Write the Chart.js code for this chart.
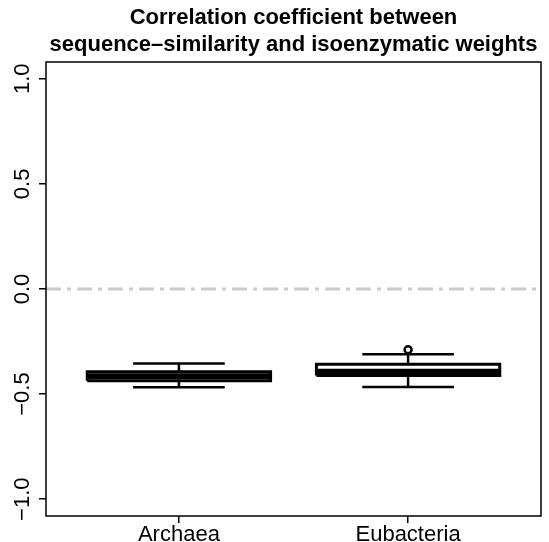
<!DOCTYPE html>
<html>
<head>
<meta charset="utf-8">
<script src="https://cdn.jsdelivr.net/npm/chart.js@4.4.1/dist/chart.umd.min.js"></script>
<style>
  html, body { margin: 0; padding: 0; background: #fff; }
</style>
</head>
<body>
<canvas id="grafica" width="549" height="542"></canvas>
<script>

// ─────────────────────────────────────────────────────────────
// Datos del boxplot
// ─────────────────────────────────────────────────────────────
const titleLines  = ['Correlation coefficient between', 'sequence\u2013similarity and isoenzymatic weights'];
const categories  = ['Archaea', 'Eubacteria'];
const whiskerLow  = [-0.468, -0.466];
const boxLow      = [-0.436, -0.411];
const medians     = [-0.415, -0.394];
const boxHigh     = [-0.394, -0.358];
const whiskerHigh = [-0.355, -0.310];
const outliers    = [[], [-0.289]];
const yTicks      = [-1.0, -0.5, 0.0, 0.5, 1.0];
const yRange      = [-1.08, 1.08];
const refLine     = 0;

// Geometría del boxplot en unidades del eje x
const BOX_HALF = 0.4;
const CAP_HALF = 0.2;
const X_MIN = 0.42;
const X_MAX = 2.58;
const FONT = "'Liberation Sans', Arial, Helvetica, sans-serif";


// ─────────────────────────────────────────────────────────────
// Construye una serie de segmentos separados por huecos (null)
// ─────────────────────────────────────────────────────────────
function segmentos(fn) {
  const pts = [];
  categories.forEach((c, i) => {
    fn(i + 1, i).forEach(p => pts.push(p));
    pts.push({ x: i + 1, y: null });
  });
  return pts;
}

const cajas = segmentos((x, i) => [
  { x: x - BOX_HALF, y: boxLow[i] },
  { x: x + BOX_HALF, y: boxLow[i] },
  { x: x + BOX_HALF, y: boxHigh[i] },
  { x: x - BOX_HALF, y: boxHigh[i] },
  { x: x - BOX_HALF, y: boxLow[i] }
]);

const medianas = segmentos((x, i) => [
  { x: x - BOX_HALF, y: medians[i] },
  { x: x + BOX_HALF, y: medians[i] }
]);

const bigotesSup = segmentos((x, i) => [
  { x: x, y: boxHigh[i] }, { x: x, y: whiskerHigh[i] }
]);
const bigotesInf = segmentos((x, i) => [
  { x: x, y: boxLow[i] }, { x: x, y: whiskerLow[i] }
]);
const topesSup = segmentos((x, i) => [
  { x: x - CAP_HALF, y: whiskerHigh[i] }, { x: x + CAP_HALF, y: whiskerHigh[i] }
]);
const topesInf = segmentos((x, i) => [
  { x: x - CAP_HALF, y: whiskerLow[i] }, { x: x + CAP_HALF, y: whiskerLow[i] }
]);

const atipicos = [];
outliers.forEach((lista, i) => lista.forEach(v => atipicos.push({ x: i + 1, y: v })));


// ─────────────────────────────────────────────────────────────
// Plugins: marco del área, título centrado sobre el área
// ─────────────────────────────────────────────────────────────
const marco = {
  id: 'marco',
  afterDatasetsDraw(chart) {
    const a = chart.chartArea;
    const ctx = chart.ctx;
    ctx.save();
    ctx.strokeStyle = '#000';
    ctx.lineWidth = 1.5;
    ctx.strokeRect(a.left, a.top, a.right - a.left, a.bottom - a.top);
    ctx.restore();
  }
};

const titulo = {
  id: 'titulo',
  afterDraw(chart) {
    const a = chart.chartArea;
    const ctx = chart.ctx;
    ctx.save();
    ctx.fillStyle = '#000';
    ctx.font = 'bold 22px ' + FONT;
    ctx.textAlign = 'center';
    ctx.textBaseline = 'middle';
    titleLines.forEach((t, k) => ctx.fillText(t, (a.left + a.right) / 2, 18 + k * 27));
    ctx.restore();
  }
};

const linea = (data, width, extra) => Object.assign({
  data: data,
  borderColor: '#000',
  borderWidth: width,
  pointRadius: 0,
  spanGaps: false,
  fill: false,
  tension: 0
}, extra || {});


// ─────────────────────────────────────────────────────────────
// Gráfica
// ─────────────────────────────────────────────────────────────
new Chart(document.getElementById('grafica').getContext('2d'), {
  type: 'line',
  data: {
    datasets: [
      linea([{ x: X_MIN, y: refLine }, { x: X_MAX, y: refLine }], 3,
            { borderColor: '#cccccc', borderDash: [15, 6, 4, 6] }),
      linea(bigotesSup, 2.5),
      linea(bigotesInf, 2.5),
      linea(topesSup, 2.5),
      linea(topesInf, 2.5),
      linea(cajas, 3, { borderJoinStyle: 'miter' }),
      linea(medianas, 6),
      {
        type: 'scatter',
        data: atipicos,
        pointStyle: 'circle',
        pointRadius: 3.5,
        pointBorderWidth: 2.5,
        pointBorderColor: '#000',
        pointBackgroundColor: '#fff',
        showLine: false
      }
    ]
  },
  options: {
    responsive: false,
    animation: false,
    events: [],
    layout: { padding: { top: 62, right: 8, left: 0, bottom: 0 } },
    plugins: { legend: { display: false }, tooltip: { enabled: false } },
    scales: {
      x: {
        type: 'linear',
        min: X_MIN,
        max: X_MAX,
        afterBuildTicks: s => { s.ticks = categories.map((c, i) => ({ value: i + 1 })); },
        afterFit: s => { s.height = 26; },
        grid: { drawOnChartArea: false, tickLength: 7, color: '#000', lineWidth: 1.5 },
        border: { display: false },
        ticks: {
          color: '#000',
          padding: -1,
          maxRotation: 0,
          font: { family: FONT, size: 22 },
          callback: v => categories[Math.round(v) - 1]
        }
      },
      y: {
        min: yRange[0],
        max: yRange[1],
        afterBuildTicks: s => { s.ticks = yTicks.map(v => ({ value: v })); },
        afterFit: s => { s.width = 46; },
        grid: { drawOnChartArea: false, tickLength: 7, color: '#000', lineWidth: 1.5 },
        border: { display: false },
        ticks: {
          color: '#000',
          padding: -6,
          minRotation: 90,
          maxRotation: 90,
          crossAlign: 'center',
          font: { family: FONT, size: 22 },
          callback: v => v.toFixed(1).replace('-', '\u2212')
        }
      }
    }
  },
  plugins: [marco, titulo]
});

</script>
</body>
</html>
